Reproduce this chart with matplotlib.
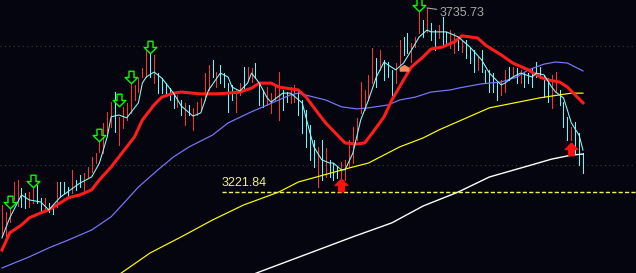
import matplotlib
matplotlib.use("Agg")
import matplotlib.pyplot as plt
import numpy as np
from matplotlib.path import Path

BG = "#05050f"
UP_C = "#ff3030"
DOWN_C = "#54ffff"

# ---- candles (high / low per bar, 1 = up bar)
high = [3186, 3167, 3181, 3250, 3256, 3234, 3220, 3222, 3239, 3242,
        3206, 3206, 3192, 3183, 3250, 3250, 3250, 3236, 3284, 3256,
        3270, 3275, 3292, 3320, 3331, 3367, 3415, 3446, 3473, 3501,
        3432, 3460, 3471, 3526, 3521, 3540, 3568, 3624, 3641, 3605,
        3554, 3540, 3526, 3513, 3499, 3493, 3479, 3471, 3465, 3457,
        3473, 3485, 3554, 3577, 3591, 3557, 3577, 3554, 3526, 3521,
        3507, 3526, 3571, 3571, 3568, 3582, 3526, 3507, 3515, 3499,
        3521, 3557, 3507, 3501, 3515, 3521, 3507, 3479, 3451, 3409,
        3367, 3348, 3367, 3345, 3312, 3303, 3292, 3306, 3312, 3367,
        3404, 3429, 3529, 3507, 3549, 3624, 3596, 3618, 3591, 3585,
        3563, 3582, 3646, 3655, 3666, 3638, 3655, 3730, 3702, 3735.73,
        3694, 3674, 3688, 3711, 3669, 3674, 3666, 3652, 3646, 3646,
        3624, 3618, 3599, 3618, 3563, 3563, 3554, 3529, 3535, 3563,
        3571, 3571, 3568, 3563, 3554, 3554, 3568, 3585, 3571, 3549,
        3540, 3549, 3557, 3507, 3473, 3432, 3404, 3418, 3387, 3331]
low = [3100, 3094, 3139, 3200, 3183, 3181, 3178, 3181, 3192, 3192,
       3164, 3172, 3167, 3161, 3181, 3208, 3220, 3208, 3220, 3228,
       3236, 3220, 3264, 3278, 3303, 3334, 3331, 3387, 3404, 3390,
       3354, 3401, 3423, 3443, 3479, 3501, 3543, 3543, 3543, 3526,
       3499, 3499, 3499, 3479, 3457, 3460, 3437, 3409, 3437, 3395,
       3437, 3451, 3479, 3507, 3543, 3515, 3526, 3515, 3446, 3479,
       3446, 3493, 3513, 3535, 3529, 3543, 3465, 3460, 3465, 3443,
       3479, 3423, 3451, 3473, 3471, 3473, 3437, 3387, 3348, 3312,
       3292, 3236, 3256, 3264, 3264, 3256, 3261, 3221.84, 3256, 3292,
       3303, 3367, 3443, 3451, 3479, 3526, 3515, 3563, 3535, 3543,
       3493, 3526, 3577, 3605, 3610, 3585, 3627, 3666, 3655, 3669,
       3646, 3618, 3652, 3627, 3632, 3624, 3610, 3618, 3613, 3596,
       3582, 3557, 3563, 3557, 3529, 3501, 3501, 3479, 3493, 3501,
       3535, 3543, 3526, 3526, 3515, 3526, 3515, 3543, 3540, 3487,
       3473, 3457, 3501, 3465, 3404, 3367, 3367, 3331, 3298, 3275]
up = [1, 1, 1, 1, 1, 0, 0, 1, 1, 0,
      0, 1, 0, 0, 1, 0, 0, 0, 1, 0,
      0, 1, 1, 1, 1, 1, 1, 1, 1, 0,
      1, 1, 1, 1, 1, 1, 1, 1, 0, 1,
      0, 0, 0, 0, 0, 1, 0, 1, 0, 1,
      1, 1, 1, 1, 0, 1, 0, 0, 0, 0,
      1, 1, 0, 1, 1, 0, 0, 0, 1, 1,
      1, 1, 0, 0, 1, 1, 0, 0, 0, 0,
      0, 1, 0, 1, 0, 0, 0, 1, 1, 1,
      1, 1, 1, 1, 1, 1, 0, 1, 0, 0,
      0, 1, 1, 0, 0, 1, 1, 1, 0, 1,
      0, 0, 1, 0, 0, 1, 1, 0, 1, 0,
      0, 0, 1, 0, 0, 0, 0, 0, 1, 1,
      0, 1, 0, 1, 0, 0, 0, 0, 0, 0,
      0, 1, 1, 0, 0, 0, 1, 0, 0, 0]

# ---- moving averages, read at selected bars
ma5_idx = [0, 2, 5, 7, 10, 12, 15, 20, 23, 25, 27, 28, 30, 32, 35, 36, 37, 39, 41, 44,
           46, 49, 51, 53, 56, 58, 59, 61, 63, 64, 66, 68, 69, 72, 74, 77, 79, 80, 82, 84,
           85, 87, 88, 90, 92, 94, 96, 98, 99, 101, 103, 105, 107, 109, 110, 114, 117, 120, 123, 125,
           128, 129, 131, 133, 136, 137, 139, 141, 142, 144, 145, 146, 148, 149]
ma5 = [3094, 3150, 3214, 3200, 3194, 3172, 3208, 3247, 3264, 3303, 3376, 3432, 3437, 3429, 3471, 3526, 3543, 3557, 3540, 3498,
       3462, 3434, 3443, 3507, 3554, 3543, 3515, 3504, 3526, 3554, 3526, 3485, 3473, 3498, 3498, 3471, 3387, 3348, 3312, 3303,
       3303, 3284, 3284, 3331, 3423, 3479, 3543, 3585, 3577, 3563, 3582, 3618, 3655, 3674, 3669, 3669, 3655, 3627, 3591, 3554,
       3521, 3526, 3543, 3554, 3543, 3554, 3549, 3515, 3501, 3485, 3451, 3415, 3381, 3339]
ma20_idx = [0, 2, 5, 7, 10, 12, 15, 17, 20, 23, 25, 28, 31, 34, 36, 39, 41, 44, 46, 51,
            55, 58, 61, 64, 66, 69, 71, 74, 76, 78, 81, 83, 86, 88, 91, 93, 95, 98, 100, 103,
            105, 108, 110, 113, 116, 118, 122, 124, 128, 131, 135, 138, 140, 143, 145, 147, 149]
ma20 = [3060, 3108, 3130, 3150, 3164, 3172, 3192, 3206, 3214, 3228, 3256, 3292, 3334, 3376, 3423, 3465, 3487, 3498, 3501, 3496,
        3496, 3498, 3501, 3512, 3526, 3526, 3515, 3510, 3507, 3487, 3443, 3415, 3381, 3359, 3356, 3359, 3387, 3432, 3479, 3535,
        3571, 3599, 3621, 3627, 3641, 3658, 3652, 3632, 3605, 3582, 3563, 3543, 3535, 3529, 3515, 3493, 3471]
ma60_idx = [0, 7, 12, 17, 23, 28, 32, 35, 40, 44, 48, 54, 58, 64, 67, 71, 74, 76, 80, 83,
            87, 91, 94, 99, 102, 106, 110, 115, 117, 123, 128, 132, 135, 139, 142, 145, 147, 149]
ma60 = [3010, 3041, 3066, 3088, 3116, 3153, 3200, 3236, 3284, 3320, 3348, 3381, 3415, 3446, 3460, 3479, 3493, 3498, 3487, 3479,
        3460, 3454, 3457, 3465, 3479, 3487, 3501, 3507, 3512, 3524, 3529, 3543, 3563, 3579, 3585, 3582, 3571, 3560]
ma120_idx = [28, 31, 38, 46, 54, 62, 71, 76, 89, 94, 102, 108, 112, 125, 138, 146, 149]
ma120 = [2977, 2999, 3052, 3097, 3144, 3186, 3222, 3250, 3289, 3303, 3348, 3373, 3395, 3457, 3485, 3498, 3498]
ma250_idx = [62, 66, 79, 90, 100, 108, 117, 125, 134, 141, 146, 149]
ma250 = [2982, 2999, 3052, 3097, 3136, 3183, 3222, 3264, 3292, 3314, 3325, 3328]

# ---- signals
sell_idx = [2, 8, 25, 30, 33, 38, 107]
sell_px = [3194, 3254, 3380, 3478, 3543, 3627, 3745]
buy_idx = [87, 146]
buy_px = [3242, 3342]
warn_idx = [103]
warn_px = [3568]

peak_idx, peak_px = 109, 3735.73
min_px = 3221.84
grid_levels = [3298, 3630]

n = len(high)
x = np.arange(n)

down_arrow = Path([(-0.2, 0.5), (0.2, 0.5), (0.2, 0.0), (0.5, 0.0), (0.0, -0.5),
                   (-0.5, 0.0), (-0.2, 0.0), (-0.2, 0.5)],
                  [Path.MOVETO] + [Path.LINETO] * 6 + [Path.CLOSEPOLY])
up_arrow = Path([(-0.22, -0.5), (0.22, -0.5), (0.22, 0.0), (0.5, 0.0), (0.0, 0.5),
                 (-0.5, 0.0), (-0.22, 0.0), (-0.22, -0.5)],
                [Path.MOVETO] + [Path.LINETO] * 6 + [Path.CLOSEPOLY])
house = Path([(-0.5, -0.3), (0.5, -0.3), (0.5, 0.05), (0.0, 0.35), (-0.5, 0.05), (-0.5, -0.3)],
             [Path.MOVETO] + [Path.LINETO] * 4 + [Path.CLOSEPOLY])

fig = plt.figure(figsize=(6.36, 2.73), dpi=100)
fig.patch.set_facecolor(BG)
ax = fig.add_axes([0, 0, 1, 1])
ax.set_facecolor(BG)

ax.set_yticks(grid_levels)
ax.yaxis.grid(True, color="#3c3c3c", linestyle=(0, (1, 3)), linewidth=0.8)
ax.set_axisbelow(True)

# 1 px wide candle lines (0.72 pt at 100 dpi), no antialiasing so they stay crisp
colors = [UP_C if u else DOWN_C for u in up]
ax.vlines(x, low, high, colors=colors, linewidth=0.72, antialiased=False, zorder=2)

ax.plot(ma250_idx, ma250, color="#ffffff", lw=1.0, zorder=3)
ax.plot(ma120_idx, ma120, color="#ffff00", lw=0.85, zorder=3)
ax.plot(ma60_idx, ma60, color="#7a78ff", lw=0.85, zorder=3)
ax.plot(ma20_idx, ma20, color="#ff1c1c", lw=2.2, zorder=4)
ax.plot(ma5_idx, ma5, color="#8cffff", lw=0.75, zorder=4)

ax.plot(sell_idx, sell_px, linestyle="none", marker=down_arrow, markersize=9,
        markerfacecolor=BG, markeredgecolor="#00ff00", markeredgewidth=1.0, zorder=5)
ax.plot(buy_idx, buy_px, linestyle="none", marker=up_arrow, markersize=9,
        markerfacecolor="#ff1010", markeredgecolor="#ff1010", zorder=5)
ax.plot(warn_idx, warn_px, linestyle="none", marker=house, markersize=6,
        markerfacecolor="#ff8a5c", markeredgecolor="#ff8a5c", zorder=5)

# lowest low marker line + label
ax.hlines(min_px, 56.4, 163, colors="#f0f060", linestyles=(0, (3, 1.6)), linewidth=1.0, zorder=3)
ax.text(56.4, min_px + 9, f"{min_px:.2f}", color="#f0f080", fontsize=9,
        family="Liberation Sans", ha="left", va="bottom", zorder=6)

ax.annotate(f"{peak_px:.2f}", xy=(peak_idx, peak_px), xytext=(112.2, 3722),
            color="#a8a8a8", fontsize=9, family="Liberation Sans", ha="left", va="center",
            arrowprops=dict(arrowstyle="-", color="#a8a8a8", lw=0.8, shrinkA=0, shrinkB=0),
            zorder=6)

ax.set_xlim(-0.5, 162.6)
ax.set_ylim(2996, 3758)
ax.tick_params(left=False, bottom=False, labelleft=False, labelbottom=False)
for s in ax.spines.values():
    s.set_visible(False)

fig.savefig("out.png", dpi=100, facecolor=BG)
